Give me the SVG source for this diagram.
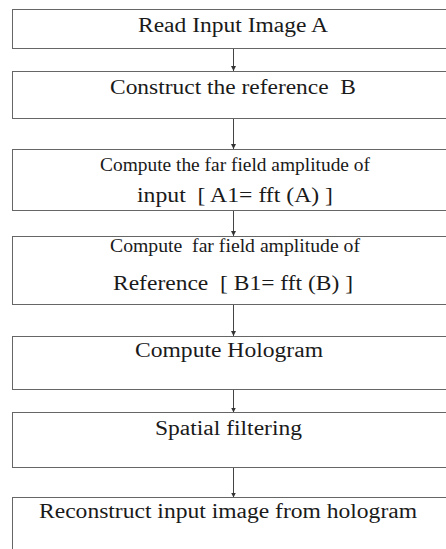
<svg xmlns="http://www.w3.org/2000/svg" width="446" height="549" viewBox="0 0 446 549">
<style>
.box{fill:#fff;stroke:#666;stroke-width:1}
.t{font-family:'Liberation Serif','Times New Roman','DejaVu Serif',serif;font-size:20px;fill:#1a1a1a;white-space:pre}
.s{font-size:19px}
.c{stroke:#444;stroke-width:1;fill:none}
</style>
<defs>
<marker id="ah" markerWidth="6" markerHeight="5" refX="5" refY="2.5" orient="auto" markerUnits="userSpaceOnUse">
<path d="M0,0 L5,2.5 L0,5 Z" fill="#333"/>
</marker>
</defs>
<rect width="446" height="549" fill="#fff"/>
<g id="connectors">
<line class="c" x1="233.5" y1="48.5" x2="233.5" y2="71" marker-end="url(#ah)"/>
<line class="c" x1="233.5" y1="118.5" x2="233.5" y2="149" marker-end="url(#ah)"/>
<line class="c" x1="233.5" y1="210.5" x2="233.5" y2="236" marker-end="url(#ah)"/>
<line class="c" x1="233.5" y1="304.5" x2="233.5" y2="336" marker-end="url(#ah)"/>
<line class="c" x1="233.5" y1="389.5" x2="233.5" y2="412.5" marker-end="url(#ah)"/>
<line class="c" x1="233.5" y1="467.5" x2="233.5" y2="497.5" marker-end="url(#ah)"/>
</g>
<g id="n1">
<rect class="box" x="12.5" y="9.5" width="450" height="39"/>
<text class="t" x="138" y="31.5" textLength="190" lengthAdjust="spacingAndGlyphs">Read Input Image A</text>
</g>
<g id="n2">
<rect class="box" x="12.5" y="71.5" width="450" height="47"/>
<text class="t" x="110" y="93.5" textLength="246" lengthAdjust="spacingAndGlyphs">Construct the reference  B</text>
</g>
<g id="n3">
<rect class="box" x="12.5" y="149.5" width="450" height="61"/>
<text class="t s" x="100" y="170.5" textLength="270" lengthAdjust="spacingAndGlyphs">Compute the far field amplitude of</text>
<text class="t" x="137" y="201.5" textLength="196" lengthAdjust="spacingAndGlyphs">input  [ A1= fft (A) ]</text>
</g>
<g id="n4">
<rect class="box" x="12.5" y="236.5" width="450" height="68"/>
<text class="t s" x="110" y="252" textLength="250" lengthAdjust="spacingAndGlyphs">Compute  far field amplitude of</text>
<text class="t" x="113" y="290" textLength="240" lengthAdjust="spacingAndGlyphs">Reference  [ B1= fft (B) ]</text>
</g>
<g id="n5">
<rect class="box" x="12.5" y="336.5" width="450" height="53"/>
<text class="t" x="135" y="356.5" textLength="188" lengthAdjust="spacingAndGlyphs">Compute Hologram</text>
</g>
<g id="n6">
<rect class="box" x="12.5" y="412.5" width="450" height="55"/>
<text class="t" x="155" y="434.5" textLength="147" lengthAdjust="spacingAndGlyphs">Spatial filtering</text>
</g>
<g id="n7">
<rect class="box" x="12.5" y="497.5" width="450" height="70"/>
<text class="t" x="39" y="518" textLength="378" lengthAdjust="spacingAndGlyphs">Reconstruct input image from hologram</text>
</g>
</svg>
